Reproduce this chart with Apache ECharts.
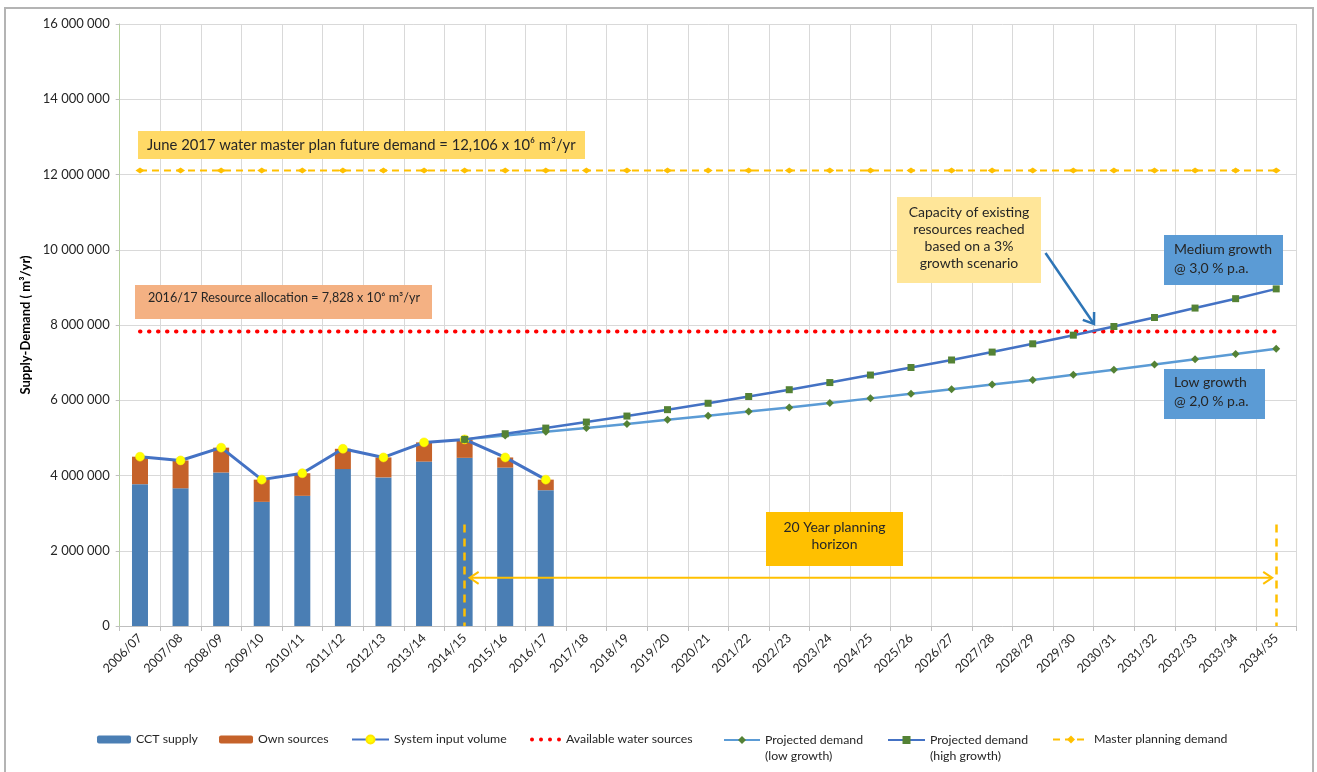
<!DOCTYPE html>
<html>
<head>
<meta charset="utf-8">
<script src="https://cdn.jsdelivr.net/npm/echarts@6/dist/echarts.min.js"></script>
<style>
  html, body { margin: 0; padding: 0; background: #ffffff; }
  #chart { width: 1317px; height: 772px; }
</style>
</head>
<body>
<div id="chart"></div>
<script>
// Financial years on the category axis
const years = [
  '2006/07', '2007/08', '2008/09', '2009/10', '2010/11', '2011/12', '2012/13',
  '2013/14', '2014/15', '2015/16', '2016/17', '2017/18', '2018/19', '2019/20',
  '2020/21', '2021/22', '2022/23', '2023/24', '2024/25', '2025/26', '2026/27',
  '2027/28', '2028/29', '2029/30', '2030/31', '2031/32', '2032/33', '2033/34', '2034/35'
];

// Historical supply (m3/yr), 2006/07 - 2016/17
const cctSupply  = [3770000, 3660000, 4080000, 3300000, 3460000, 4170000, 3950000, 4370000, 4470000, 4210000, 3610000];
const ownSources = [ 730000,  740000,  660000,  590000,  600000,  540000,  530000,  510000,  490000,  270000,  280000];
const systemInput = [4500000, 4400000, 4740000, 3890000, 4060000, 4710000, 4480000, 4880000, 4960000, 4480000, 3890000];

// Projected demand from 2014/15 onwards
const lowGrowth = [null, null, null, null, null, null, null, null,
  4960000, 5060000, 5160000, 5260000, 5370000, 5480000, 5590000, 5700000, 5810000,
  5930000, 6050000, 6170000, 6290000, 6420000, 6540000, 6680000, 6810000, 6950000,
  7090000, 7230000, 7370000];
const highGrowth = [null, null, null, null, null, null, null, null,
  4960000, 5110000, 5260000, 5420000, 5580000, 5750000, 5920000, 6100000, 6280000,
  6470000, 6670000, 6870000, 7070000, 7280000, 7500000, 7730000, 7960000, 8200000,
  8450000, 8700000, 8960000];

// Planning levels (m3/yr)
const resourceAllocation = 7828000;
const masterPlanDemand = 12106000;
const availableSources = years.map(() => resourceAllocation);
const masterPlanning = years.map(() => masterPlanDemand);

// 20 year planning horizon markers
const horizonStart = '2014/15';
const horizonEnd = '2034/35';
const horizonArrowLevel = 1280000;
const horizonTickTop = 2700000;

const FONT = 'Lato, "Open Sans", sans-serif';
const TXT = '#262626';
const GOLD = '#FFC000';

const fmt = v => String(v).replace(/\B(?=(\d{3})+(?!\d))/g, ' ');

// four round dots used as the legend key of the dotted line
const dotsIcon = 'path://M0,2a2,2 0 1,0 4,0a2,2 0 1,0 -4,0' +
  'M9,2a2,2 0 1,0 4,0a2,2 0 1,0 -4,0' +
  'M18,2a2,2 0 1,0 4,0a2,2 0 1,0 -4,0' +
  'M27,2a2,2 0 1,0 4,0a2,2 0 1,0 -4,0';

const chart = echarts.init(document.getElementById('chart'), null, { renderer: 'canvas' });

function legendItem(name, left, w, h, multi, icon) {
  const item = {
    data: [icon ? { name: name, icon: icon } : name],
    left: left,
    top: multi ? 716 : 732,
    padding: 0,
    orient: 'horizontal',
    itemWidth: w,
    itemHeight: h,
    itemGap: 0,
    selectedMode: false,
    textStyle: { fontFamily: FONT, fontSize: 12.3, color: TXT, lineHeight: multi ? 16 : 15 }
  };
  // two-line names: keep the first line level with the key
  if (multi) item.formatter = n => '\n' + n;
  return item;
}

let gid = 0;
function box(x, y, w, h, fill, lines, opts) {
  opts = opts || {};
  const els = [{
    id: 'g' + (gid++),
    type: 'rect',
    shape: { x: x, y: y, width: w, height: h },
    style: { fill: fill },
    z: 50
  }];
  lines.forEach((t, i) => {
    els.push({
      id: 'g' + (gid++),
      type: 'text',
      z: 51,
      style: {
        text: t,
        x: opts.align === 'center' ? x + w / 2 : x + (opts.padX || 10),
        y: opts.firstY + i * (opts.lineH || 17),
        align: opts.align || 'left',
        verticalAlign: 'middle',
        font: (opts.fontSize || 14) + 'px ' + FONT,
        fill: TXT
      }
    });
  });
  return els;
}

const graphics = [].concat(
  // outer chart frame
  [{
    id: 'frame',
    type: 'rect',
    shape: { x: 5, y: 8, width: 1308, height: 790 },
    style: { fill: null, stroke: '#b4b4b4', lineWidth: 2 },
    z: 0, silent: true
  }],
  box(138, 131, 447, 28, '#FFD966',
    ['June 2017 water master plan future demand = 12,106 x 10\u2076 m\u00b3/yr'],
    { firstY: 145, padX: 9, fontSize: 14.8 }),
  box(135, 285, 297, 34, '#F4B183',
    ['2016/17 Resource allocation = 7,828 x 10\u2076 m\u00b3/yr'],
    { firstY: 298, padX: 13, fontSize: 12.6 }),
  box(897, 197, 144, 86, '#FFE699',
    ['Capacity of existing', 'resources reached', 'based on a 3%', 'growth scenario'],
    { firstY: 212, lineH: 17, align: 'center', fontSize: 14 }),
  box(1164, 235, 119, 50, '#5B9BD5',
    ['Medium growth', '@ 3,0 % p.a.'],
    { firstY: 249, lineH: 19, padX: 10, fontSize: 14 }),
  box(1164, 369, 101, 50, '#5B9BD5',
    ['Low growth', '@ 2,0 % p.a.'],
    { firstY: 382, lineH: 19, padX: 10, fontSize: 14 }),
  box(766, 512, 137, 54, GOLD,
    ['20 Year planning', 'horizon'],
    { firstY: 527, lineH: 17, align: 'center', fontSize: 14 }),
  // pointer from the capacity note to the crossing point
  [{
    id: 'ptr-shaft',
    type: 'polyline',
    shape: { points: [[1045.5, 253], [1093, 322.5]] },
    style: { stroke: '#2E75B6', lineWidth: 2.5, fill: null },
    z: 52
  }, {
    id: 'ptr-head',
    type: 'polyline',
    shape: { points: [[1094.1, 312], [1094, 324], [1082.8, 319.8]] },
    style: { stroke: '#2E75B6', lineWidth: 2.5, fill: null, lineJoin: 'miter' },
    z: 52
  }]
);

const option = {
  animation: false,
  backgroundColor: '#ffffff',
  textStyle: { fontFamily: FONT },
  grid: { left: 119.7, right: 20.5, top: 24, bottom: 146, containLabel: false },
  legend: [
    legendItem('CCT supply', 97, 34, 8, false),
    legendItem('Own sources', 219, 34, 8, false),
    legendItem('System input volume', 351, 37, 10, false),
    legendItem('Available water sources', 530, 31, 4, false, dotsIcon),
    legendItem('Projected demand\n(low growth)', 723, 36, 10, true),
    legendItem('Projected demand\n(high growth)', 887, 37, 10, true),
    legendItem('Master planning demand', 1052, 36, 10, false)
  ],
  xAxis: {
    type: 'category',
    data: years,
    boundaryGap: true,
    axisLine: { lineStyle: { color: '#bfbfbf', width: 1 } },
    axisTick: { show: true, length: 5, interval: 0, lineStyle: { color: '#bfbfbf' } },
    axisLabel: {
      rotate: 45, interval: 0, margin: 10,
      fontFamily: FONT, fontSize: 12.5, color: TXT
    },
    splitLine: { show: true, interval: 0, lineStyle: { color: '#d9d9d9', width: 1 } }
  },
  yAxis: {
    type: 'value',
    min: 0, max: 16000000, interval: 2000000,
    name: 'Supply-Demand ( m\u00b3/yr)',
    nameLocation: 'middle',
    nameGap: 84,
    nameTextStyle: { fontFamily: FONT, fontSize: 13, fontWeight: 'bold', color: '#000' },
    axisLine: { show: true, lineStyle: { color: '#b5d19c', width: 1 } },
    axisTick: { show: true, length: 4, lineStyle: { color: '#bfbfbf' } },
    axisLabel: { formatter: fmt, fontFamily: FONT, fontSize: 13, color: TXT, margin: 10 },
    splitLine: { show: true, lineStyle: { color: '#d9d9d9', width: 1 } }
  },
  series: [
    {
      name: 'CCT supply', type: 'bar', stack: 'supply',
      data: cctSupply, barWidth: 16,
      itemStyle: { color: '#4A7EB4' }, z: 2
    },
    {
      name: 'Own sources', type: 'bar', stack: 'supply',
      data: ownSources, barWidth: 16,
      itemStyle: { color: '#C5622A' }, z: 2
    },
    {
      name: 'Available water sources', type: 'line',
      data: availableSources, symbol: 'none',
      lineStyle: { color: '#FF0000', width: 4, type: [0.5, 8.5], cap: 'round' },
      itemStyle: { color: '#FF0000' }, z: 3
    },
    {
      name: 'Master planning demand', type: 'line',
      data: masterPlanning, symbol: 'diamond', symbolSize: [9, 6],
      lineStyle: { color: GOLD, width: 2, type: [7, 5] },
      itemStyle: { color: GOLD }, z: 3,
      markLine: {
        silent: true, animation: false,
        symbol: ['none', 'none'],
        label: { show: false },
        emphasis: { disabled: true },
        lineStyle: { color: GOLD, width: 2.5, type: [8, 6] },
        data: [
          [{ coord: [horizonStart, horizonTickTop] }, { coord: [horizonStart, 0] }],
          [{ coord: [horizonEnd, horizonTickTop] }, { coord: [horizonEnd, 0] }]
        ]
      }
    },
    {
      name: 'System input volume', type: 'line',
      data: systemInput, symbol: 'circle', symbolSize: 9,
      lineStyle: { color: '#4472C4', width: 3 },
      itemStyle: { color: '#FFFF00', borderColor: '#FFE600', borderWidth: 0.5 }, z: 4
    },
    {
      name: 'Projected demand\n(low growth)', type: 'line',
      data: lowGrowth, symbol: 'diamond', symbolSize: 8,
      lineStyle: { color: '#5B9BD5', width: 2.5 },
      itemStyle: { color: '#548235' }, z: 5
    },
    {
      name: 'Projected demand\n(high growth)', type: 'line',
      data: highGrowth, symbol: 'rect', symbolSize: 7,
      lineStyle: { color: '#4472C4', width: 2.5 },
      itemStyle: { color: '#548235' }, z: 6
    }
  ],
  graphic: graphics
};

chart.setOption(option);

// double-headed arrow spanning the planning horizon, placed through the axes
const a = chart.convertToPixel({ gridIndex: 0 }, [horizonStart, horizonArrowLevel]);
const b = chart.convertToPixel({ gridIndex: 0 }, [horizonEnd, horizonArrowLevel]);
const x0 = a[0] + 5, x1 = b[0] - 4, yA = a[1];
chart.setOption({
  graphic: [
    {
      id: 'horizon-shaft', type: 'line', z: 40,
      shape: { x1: x0 + 1, y1: yA, x2: x1 - 1, y2: yA },
      style: { stroke: GOLD, lineWidth: 2 }
    },
    {
      id: 'horizon-head-l', type: 'polyline', z: 40,
      shape: { points: [[x0 + 9, yA - 6], [x0, yA], [x0 + 9, yA + 6]] },
      style: { stroke: GOLD, lineWidth: 2, fill: null }
    },
    {
      id: 'horizon-head-r', type: 'polyline', z: 40,
      shape: { points: [[x1 - 9, yA - 6], [x1, yA], [x1 - 9, yA + 6]] },
      style: { stroke: GOLD, lineWidth: 2, fill: null }
    }
  ]
});
</script>
</body>
</html>
